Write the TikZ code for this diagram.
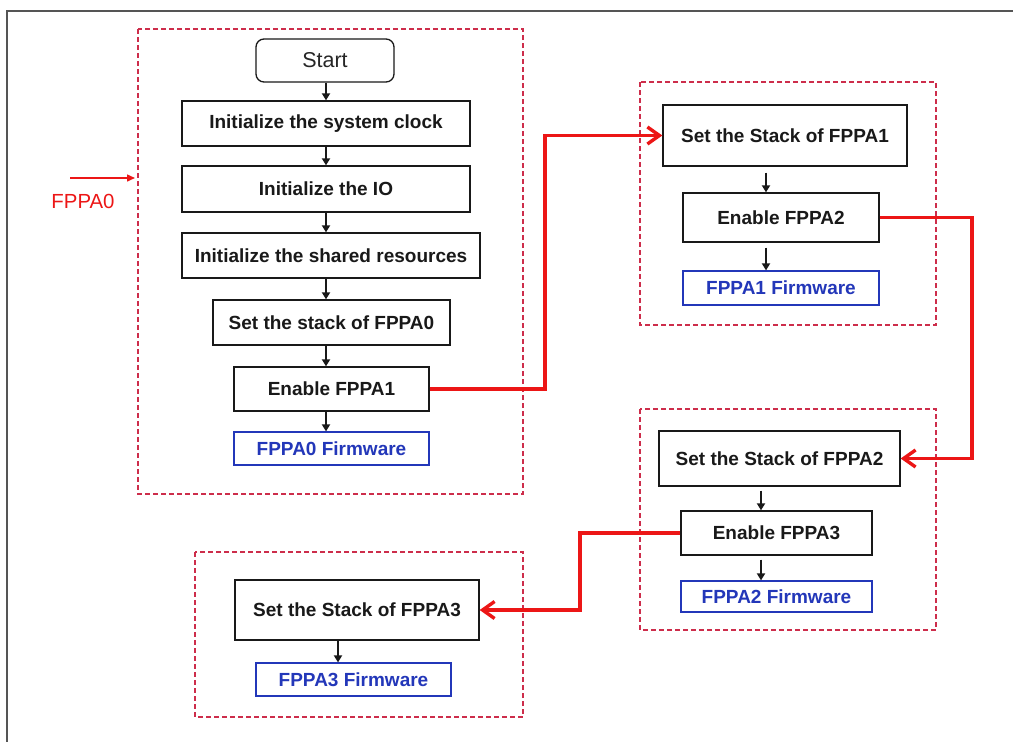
\documentclass[tikz,border=0pt]{standalone}
\usepackage{fontspec}
\setmainfont{Liberation Sans}
\usetikzlibrary{arrows.meta}
\definecolor{dashred}{RGB}{205,45,75}
\definecolor{linkred}{RGB}{236,22,22}
\definecolor{fwblue}{RGB}{35,55,185}
\definecolor{framegray}{RGB}{85,85,85}
\tikzset{
  box/.style={draw=black!90, line width=1.3pt, fill=white, inner sep=0pt,
    font=\fontsize{19}{22}\selectfont\bfseries, text=black!90},
  fwbox/.style={draw=fwblue, line width=1.2pt, fill=white, inner sep=0pt,
    font=\fontsize{19}{22}\selectfont\bfseries, text=fwblue},
  startbox/.style={draw=black!90, line width=1.3pt, fill=white, rounded corners=8pt,
    inner sep=0pt, font=\fontsize{21.5}{24}\selectfont, text=black!85},
  group/.style={draw=dashred, line width=1.1pt, dash pattern=on 5pt off 3pt},
  flow/.style={line width=2.4pt, black!90, -{Triangle[length=7pt,width=8pt]}},
  link/.style={line width=3.6pt, linkred, line join=miter,
    -{Straight Barb[length=12pt,width=17pt,line width=3.4pt]}},
}
\begin{document}
\begin{tikzpicture}[x=1pt,y=-1pt]
\useasboundingbox (0,0) rectangle (1013,742);
% outer frame (only top and left visible)
\draw[framegray, line width=1.6pt] (7,742) -- (7,11) -- (1013,11);

% dashed groups
\draw[group] (138,29) rectangle (523,494);
\draw[group] (640,82) rectangle (936,325);
\draw[group] (640,409) rectangle (936,630);
\draw[group] (195,552) rectangle (523,717);

% FPPA0 entry
\coordinate (inA) at (70,178);
\coordinate (inB) at (135,178);
\draw[linkred, line width=1.5pt, -{Triangle[length=8pt,width=7pt]}] (inA) -- (inB);
\node[text=linkred, font=\fontsize{20.4}{23}\selectfont] (lab) at (83,201) {FPPA0};

% column 1
\node[startbox, minimum width=138pt, minimum height=43pt] (start) at (325,60.5) {Start};
\node[box, minimum width=288pt, minimum height=45pt] (clk) at (326,123.5) {Initialize the system clock};
\node[box, minimum width=288pt, minimum height=46pt] (io) at (326,189) {Initialize the IO};
\node[box, minimum width=298pt, minimum height=45pt] (shr) at (331,255.5) {Initialize the shared resources};
\node[box, minimum width=237pt, minimum height=45pt] (st0) at (331.5,322.5) {Set the stack of FPPA0};
\node[box, minimum width=195pt, minimum height=44pt] (en1) at (331.5,389) {Enable FPPA1};
\node[fwbox, minimum width=195pt, minimum height=33pt] (fw0) at (331.5,448.5) {FPPA0 Firmware};

% column 2
\node[box, minimum width=244pt, minimum height=61pt] (st1) at (785,135.5) {Set the Stack of FPPA1};
\node[box, minimum width=196pt, minimum height=49pt] (en2) at (781,217.5) {Enable FPPA2};
\node[fwbox, minimum width=196pt, minimum height=34pt] (fw1) at (781,288) {FPPA1 Firmware};

% column 3
\node[box, minimum width=241pt, minimum height=55pt] (st2) at (779.5,458.5) {Set the Stack of FPPA2};
\node[box, minimum width=191pt, minimum height=44pt] (en3) at (776.5,533) {Enable FPPA3};
\node[fwbox, minimum width=191pt, minimum height=31pt] (fw2) at (776.5,596.5) {FPPA2 Firmware};

% column 4
\node[box, minimum width=244pt, minimum height=60pt] (st3) at (357,610) {Set the Stack of FPPA3};
\node[fwbox, minimum width=195pt, minimum height=33pt] (fw3) at (353.5,679.5) {FPPA3 Firmware};

% black flow arrows
\coordinate (c1) at (326,0);
\coordinate (c2) at (766,0);
\coordinate (c3) at (761,0);
\coordinate (c4) at (338,0);
\draw[flow] (start.south -| c1) -- (clk.north -| c1);
\draw[flow] (clk.south -| c1) -- (io.north -| c1);
\draw[flow] (io.south -| c1) -- (shr.north -| c1);
\draw[flow] (shr.south -| c1) -- (st0.north -| c1);
\draw[flow] (st0.south -| c1) -- (en1.north -| c1);
\draw[flow] (en1.south -| c1) -- (fw0.north -| c1);
\draw[flow, shorten <=6pt] (st1.south -| c2) -- (en2.north -| c2);
\draw[flow, shorten <=5pt] (en2.south -| c2) -- (fw1.north -| c2);
\draw[flow, shorten <=4pt] (st2.south -| c3) -- (en3.north -| c3);
\draw[flow, shorten <=4pt] (en3.south -| c3) -- (fw2.north -| c3);
\draw[flow] (st3.south -| c4) -- (fw3.north -| c4);

% red links
\coordinate (r1) at (545,0);
\coordinate (r2) at (972,0);
\coordinate (r3) at (580,0);
\draw[link] (en1.east) -- (en1.east -| r1) -- (r1 |- st1.west) -- (st1.west);
\draw[link] (en2.east) -- (en2.east -| r2) -- (r2 |- st2.east) -- (st2.east);
\draw[link] (en3.west) -- (en3.west -| r3) -- (r3 |- st3.east) -- (st3.east);
\end{tikzpicture}
\end{document}
